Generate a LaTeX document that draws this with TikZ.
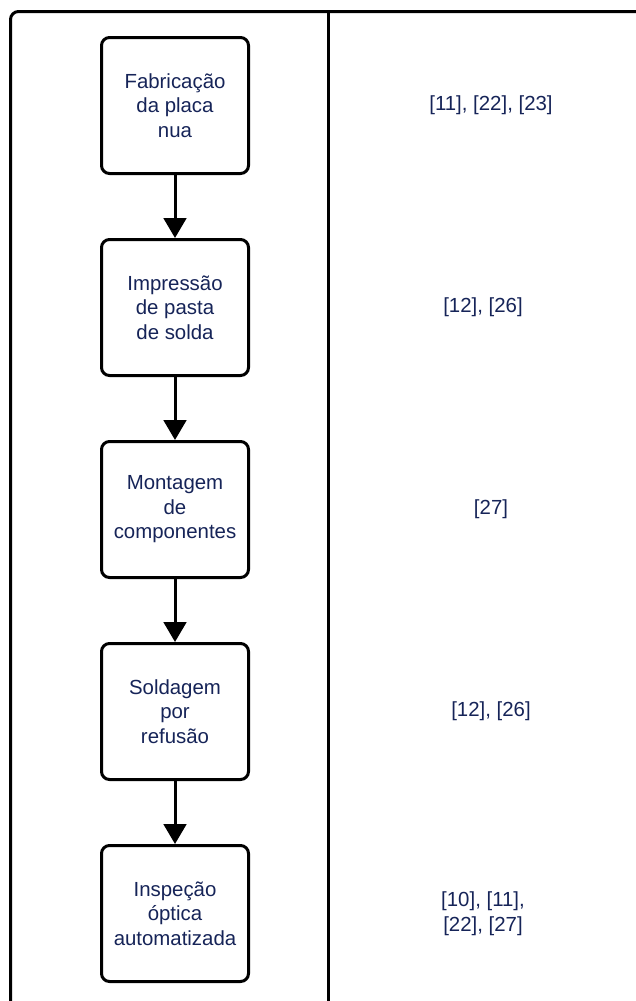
\documentclass[tikz,border=0pt]{standalone}
\usepackage{fontspec}
\setmainfont{Liberation Sans}
\usetikzlibrary{positioning, arrows.meta}

\definecolor{navytext}{RGB}{22,36,88}

\begin{document}
\begin{tikzpicture}[
    x=0.75pt, y=-0.75pt,
    font=\fontsize{15.3}{18.4}\selectfont,
    frame/.style={line width=2.25pt, draw=black, rounded corners=6pt},
    stepbox/.style={draw=black, line width=2.25pt, rounded corners=6pt, fill=white,
        minimum width=110.25pt, minimum height=102pt, align=center, text=navytext},
    flowarrow/.style={-{Triangle[width=17pt, length=15pt]}, line width=2.25pt, draw=black},
    refnote/.style={align=center, text=navytext}
]

% Page area
\clip (0,0) rectangle (636,1001);

% Outer frame and column divider
\draw[frame] (10.5,1020) |- (660,11.5);
\draw[line width=2.25pt] (328.5,11.5) -- (328.5,1020);

% Process steps
\node[stepbox] (fab) at (175,105.5) {Fabricação\\da placa\\nua};
\node[stepbox, below=47.25pt of fab] (print) {Impressão\\de pasta\\de solda};
\node[stepbox, below=47.25pt of print] (mount) {Montagem\\de\\componentes};
\node[stepbox, below=47.25pt of mount] (reflow) {Soldagem\\por\\refusão};
\node[stepbox, below=47.25pt of reflow] (aoi) {Inspeção\\óptica\\automatizada};

% Arrows between steps
\draw[flowarrow] (fab) -- (print);
\draw[flowarrow] (print) -- (mount);
\draw[flowarrow] (mount) -- (reflow);
\draw[flowarrow] (reflow) -- (aoi);

% References column
\coordinate (refcol) at (491,0);
\coordinate (refcolb) at (483,0);
\node[refnote] (reffab) at (refcol |- fab) {[11], [22], [23]};
\node[refnote] (refprint) at (refcolb |- print) {[12], [26]};
\node[refnote] (refmount) at (refcol |- mount) {[27]};
\node[refnote] (refreflow) at (refcol |- reflow) {[12], [26]};
\node[refnote] (refaoi) at (refcolb |- aoi) {[10], [11],\\{}[22], [27]};

\end{tikzpicture}
\end{document}
